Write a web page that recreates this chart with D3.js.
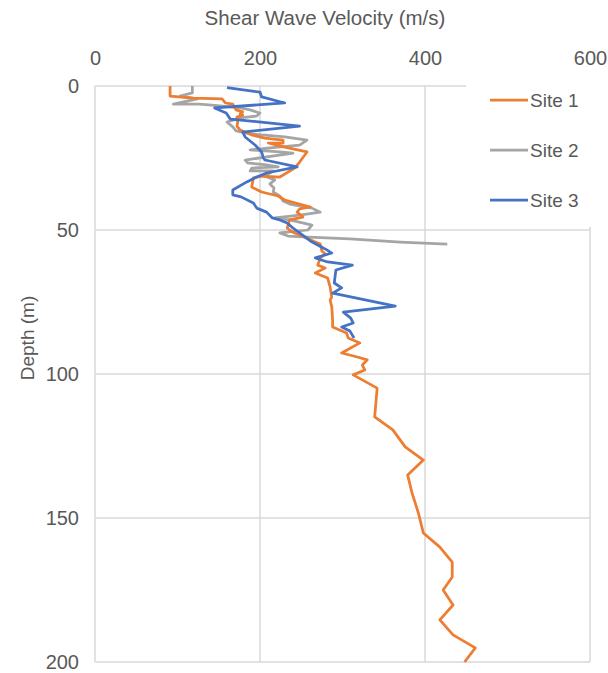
<!DOCTYPE html>
<html>
<head>
<meta charset="utf-8">
<script src="https://cdn.jsdelivr.net/npm/d3@7"></script>
<style>
  body { margin: 0; background: #fff; }
  text { font-family: "Liberation Sans", Arial, sans-serif; fill: #595959; }
</style>
</head>
<body>
<div id="chart"></div>
<script>
// velocity (m/s) and depth (m)
const site1Vel = [91, 91, 119, 154, 158, 167, 171, 179, 176, 179, 172, 173, 172, 176, 190, 206, 228, 228, 210, 230, 257, 248, 242, 224, 202, 192, 190, 202, 222, 230, 261, 248, 245, 252, 236, 233, 239, 251, 267, 273, 275, 279, 273, 270, 279, 267, 282, 285, 287, 285, 287, 288, 288, 305, 307, 321, 299, 318, 330, 324, 327, 313, 342, 339, 361, 376, 398, 379, 384, 392, 398, 418, 433, 433, 422, 434, 418, 434, 461, 448];
const site1Depth = [0, 3.5, 4.2, 4.5, 5.9, 6.3, 8.3, 9.0, 9.7, 10.1, 10.8, 12.8, 13.9, 15.3, 17.0, 18.1, 18.8, 19.8, 19.8, 21.2, 22.9, 26.4, 28.5, 31.6, 31.3, 31.9, 35.1, 36.8, 38.2, 39.6, 42.0, 42.7, 43.8, 45.5, 46.5, 49.3, 50.7, 52.1, 54.2, 54.9, 57.3, 58.3, 59.7, 62.2, 63.2, 64.9, 66.7, 69.8, 73.3, 74.3, 76.7, 81.3, 83.7, 85.8, 87.5, 89.2, 92.7, 94.1, 95.1, 96.9, 98.6, 100.3, 104.9, 114.9, 119.4, 125.3, 129.9, 135.1, 141.0, 148.3, 155.2, 160.1, 165.3, 170.5, 175.0, 180.2, 185.4, 190.6, 195.1, 200];

const site2Vel = [118, 118, 103, 124, 95, 127, 152, 176, 188, 200, 196, 176, 160, 167, 171, 182, 202, 230, 257, 248, 212, 188, 224, 240, 182, 185, 208, 222, 190, 188, 216, 206, 218, 212, 217, 216, 224, 228, 236, 263, 273, 248, 218, 236, 263, 258, 224, 234, 252, 309, 370, 427];
const site2Depth = [0, 2.4, 3.5, 4.5, 6.3, 6.3, 6.9, 7.6, 8.3, 9.4, 10.4, 11.1, 12.5, 14.2, 15.6, 16.3, 17.0, 17.7, 18.8, 20.5, 21.5, 22.2, 22.9, 23.3, 25.7, 26.7, 27.4, 28.1, 28.5, 29.5, 29.5, 31.3, 32.6, 34.0, 35.4, 36.8, 38.2, 39.9, 41.0, 42.4, 43.8, 44.8, 45.8, 46.5, 48.3, 50.0, 51.0, 52.1, 52.4, 53.1, 54.2, 54.9];

const site3Vel = [160, 200, 202, 230, 145, 159, 164, 248, 179, 182, 194, 202, 204, 206, 245, 208, 196, 184, 167, 167, 177, 192, 196, 208, 215, 224, 233, 240, 248, 261, 270, 281, 287, 267, 282, 312, 292, 290, 299, 288, 364, 301, 310, 313, 299, 309, 314];
const site3Depth = [0.6, 2.1, 3.8, 5.9, 7.6, 9.4, 11.5, 13.9, 16.0, 17.7, 20.5, 22.9, 25.0, 25.7, 28.1, 30.2, 31.6, 33.3, 36.1, 37.8, 38.5, 40.6, 42.4, 43.8, 45.8, 46.5, 47.6, 49.3, 51.0, 53.8, 55.2, 56.9, 58.0, 59.7, 61.1, 62.2, 63.9, 68.4, 70.1, 71.9, 76.4, 78.5, 80.6, 82.3, 83.7, 85.1, 87.5];

const siteNames = ['Site 1', 'Site 2', 'Site 3'];
const siteColors = ['#ED7D31', '#A5A5A5', '#4472C4'];
const velTicks = [0, 200, 400, 600];
const depthTicks = [0, 50, 100, 150, 200];

const width = 608;
const height = 673;
const margin = { top: 86, right: 18, bottom: 11, left: 95 };
const fontFamily = '"Liberation Sans", Arial, sans-serif';

const svg = d3.select('#chart').append('svg')
  .attr('width', width)
  .attr('height', height);

const x = d3.scaleLinear().domain([0, 600]).range([margin.left, width - margin.right]);
const y = d3.scaleLinear().domain([0, 200]).range([margin.top, height - margin.bottom]);

// gridlines (horizontal + vertical)
const grid = svg.append('g').attr('stroke', '#D9D9D9').attr('stroke-width', 1.5);
grid.selectAll('line.h').data(depthTicks).join('line')
  .attr('class', 'h')
  .attr('x1', x(0)).attr('x2', x(600))
  .attr('y1', d => y(d)).attr('y2', d => y(d));
grid.selectAll('line.v').data(velTicks).join('line')
  .attr('class', 'v')
  .attr('x1', d => x(d)).attr('x2', d => x(d))
  .attr('y1', y(0)).attr('y2', y(200));

// top axis labels
const xAxis = d3.axisTop(x).tickValues(velTicks).tickSize(0).tickPadding(0);
svg.append('g')
  .attr('transform', `translate(0,${margin.top - 21})`)
  .call(xAxis)
  .call(g => g.select('.domain').remove())
  .selectAll('text')
  .attr('font-size', 20)
  .attr('fill', '#595959')
  .attr('font-family', fontFamily);

// left axis labels
const yAxis = d3.axisLeft(y).tickValues(depthTicks).tickSize(0).tickPadding(0);
svg.append('g')
  .attr('transform', `translate(${margin.left - 16},0)`)
  .call(yAxis)
  .call(g => g.select('.domain').remove())
  .selectAll('text')
  .attr('font-size', 20)
  .attr('fill', '#595959')
  .attr('font-family', fontFamily);

// axis titles
svg.append('text')
  .attr('x', 325).attr('y', 25)
  .attr('text-anchor', 'middle')
  .attr('font-size', 20.5)
  .text('Shear Wave Velocity (m/s)');
svg.append('text')
  .attr('transform', 'translate(34,338) rotate(-90)')
  .attr('text-anchor', 'middle')
  .attr('font-size', 19)
  .text('Depth (m)');

// profiles
const sites = [
  { vel: site1Vel, depth: site1Depth },
  { vel: site2Vel, depth: site2Depth },
  { vel: site3Vel, depth: site3Depth },
];
const line = d3.line()
  .x(d => x(d[0]))
  .y(d => y(d[1]));

// draw site 2 first, then 1 and 3 on top like the reference
[1, 0, 2].forEach((i) => {
  const pts = sites[i].vel.map((v, k) => [v, sites[i].depth[k]]);
  svg.append('path')
    .datum(pts)
    .attr('fill', 'none')
    .attr('stroke', siteColors[i])
    .attr('stroke-width', 2.75)
    .attr('stroke-linejoin', 'round')
    .attr('d', line);
});

// legend box covers the top-right corner of the plot
svg.append('rect')
  .attr('x', 466).attr('y', margin.top - 2)
  .attr('width', width - 466).attr('height', 143)
  .attr('fill', '#fff');

const legend = svg.append('g');
siteNames.forEach((name, i) => {
  const ly = 100 + i * 50;
  legend.append('line')
    .attr('x1', 490).attr('x2', 528)
    .attr('y1', ly).attr('y2', ly)
    .attr('stroke', siteColors[i])
    .attr('stroke-width', 2.75);
  legend.append('text')
    .attr('x', 530).attr('y', ly)
    .attr('dy', '0.35em')
    .attr('font-size', 19)
    .text(name);
});
</script>
</body>
</html>
